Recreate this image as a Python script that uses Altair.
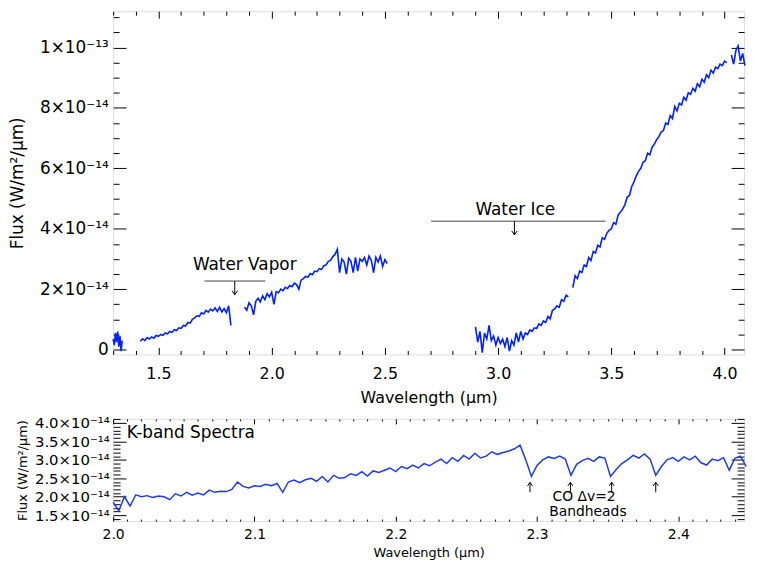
import altair as alt
import pandas as pd

FONT = "DejaVu Sans"

# ---------------- Top panel: full spectrum (flux in units of 1e-14 W/m^2/um) -------------
SEGMENTS = [
    # (start wavelength, step, flux values)
    (1.300, 0.005, [0.35, 0.15, 0.55, 0.25, 0.60, 0.10, 0.45, -0.05, 0.30]),
    (1.420, 0.010, [0.28, 0.36, 0.30, 0.40, 0.35, 0.42, 0.38, 0.47, 0.44, 0.50,
                    0.47, 0.55, 0.52, 0.60, 0.57, 0.66, 0.63, 0.72, 0.70, 0.80,
                    0.78, 0.90, 0.88, 1.00, 1.05, 1.12, 1.10, 1.22, 1.18, 1.30,
                    1.24, 1.34, 1.28, 1.38, 1.26, 1.40, 1.25, 1.36, 1.22, 1.45,
                    0.80]),
    (1.880, 0.010, [1.40, 1.30, 1.55, 1.45, 1.15, 1.60, 1.70, 1.58, 1.78, 1.65,
                    1.85, 1.75, 1.90, 1.50, 1.92, 1.88, 2.00, 1.95, 2.06, 2.02,
                    2.12, 2.08, 2.20, 2.15, 2.00, 2.30, 2.35, 2.42, 2.40, 2.52,
                    2.48, 2.60, 2.58, 2.68, 2.65, 2.78, 2.80, 2.92, 2.95, 3.08,
                    3.15, 3.32, 2.55, 3.00, 2.90, 2.50, 3.02, 2.92, 2.55, 3.05,
                    2.60, 3.00, 2.92, 3.05, 2.80, 3.10, 2.95, 2.55, 3.05, 2.90,
                    3.10, 2.75, 2.98, 2.85]),
    (2.900, 0.010, [0.75, 0.25, 0.60, -0.10, 0.55, 0.35, 0.80, 0.30, 0.45, 0.15,
                    0.40, 0.20, 0.35, 0.10, 0.40, -0.05, 0.30, 0.15, 0.55, 0.25,
                    0.60, 0.35, 0.55, 0.50, 0.65, 0.60, 0.72, 0.70, 0.85, 0.80,
                    0.95, 0.90, 1.10, 1.02, 1.30, 1.35, 1.45, 1.40, 1.65, 1.60,
                    1.80, 1.75]),
    (3.330, 0.010, [2.05, 2.45, 2.35, 2.60, 2.55, 2.80, 2.75, 3.05, 2.95, 3.25,
                    3.20, 3.45, 3.40, 3.70, 3.65, 3.85, 3.95, 4.00, 4.20, 4.15,
                    4.45, 4.55, 4.65, 4.80, 5.05, 5.10, 5.40, 5.55, 5.75, 5.90,
                    6.00, 6.20, 6.25, 6.50, 6.45, 6.70, 6.80, 6.95, 7.05, 7.20,
                    7.25, 7.50, 7.45, 7.75, 7.65, 8.05, 7.90, 8.15, 8.10, 8.35,
                    8.25, 8.50, 8.45, 8.65, 8.55, 8.80, 8.70, 8.95, 8.85, 9.10,
                    9.00, 9.25, 9.15, 9.35, 9.30, 9.45, 9.40, 9.55, 9.50]),
    (4.030, 0.010, [9.75, 9.45, 9.90, 10.05, 9.55, 9.80, 9.40]),
]

TOP_X_DOMAIN = [1.3, 4.086]
TOP_Y_DOMAIN = [-0.16, 11.2]
TOP_X_TICKS = [1.3, 1.4, 1.5, 1.6, 1.7, 1.8, 1.9, 2.0, 2.1, 2.2, 2.3, 2.4, 2.5, 2.6,
               2.7, 2.8, 2.9, 3.0, 3.1, 3.2, 3.3, 3.4, 3.5, 3.6, 3.7, 3.8, 3.9, 4.0]
TOP_Y_TICKS = [0, 0.5, 1, 1.5, 2, 2.5, 3, 3.5, 4, 4.5, 5, 5.5, 6, 6.5, 7, 7.5, 8,
               8.5, 9, 9.5, 10, 10.5, 11]

# annotations (top)
ANN_LABELS = ["Water Vapor", "Water Ice"]
ANN_TEXT_X = [1.881, 3.076]
ANN_TEXT_Y = [2.79, 4.61]
ANN_LINE_X1 = [1.703, 2.704]
ANN_LINE_X2 = [1.972, 3.475]
ANN_LINE_Y = [2.27, 4.25]
ANN_ARROW_X = [1.837, 3.072]
ANN_ARROW_TIP = [1.82, 3.80]

# ---------------- Bottom panel: K-band spectrum ---------------------------------------
K_START, K_STEP = 2.000, 0.004
K_FLUX = [1.85, 1.62, 2.00, 1.75, 2.05, 2.00, 2.03, 1.98, 2.02, 2.00,
          1.92, 2.08, 2.02, 2.12, 2.04, 2.10, 2.05, 2.18, 2.12, 2.15,
          2.14, 2.20, 2.40, 2.28, 2.24, 2.30, 2.28, 2.34, 2.30, 2.36,
          2.12, 2.40, 2.45, 2.38, 2.46, 2.50, 2.42, 2.55, 2.40, 2.58,
          2.50, 2.52, 2.62, 2.58, 2.68, 2.56, 2.70, 2.66, 2.72, 2.78,
          2.68, 2.82, 2.76, 2.86, 2.78, 2.90, 2.84, 2.94, 3.02, 2.90,
          3.06, 2.96, 3.12, 3.02, 3.18, 3.05, 3.10, 3.22, 3.15, 3.20,
          3.24, 3.30, 3.40, 3.00, 2.55, 2.85, 3.00, 3.08, 3.04, 3.10,
          3.02, 2.58, 2.88, 2.98, 3.04, 2.96, 3.08, 3.05, 2.55, 2.74,
          2.90, 3.00, 3.12, 3.05, 3.16, 3.02, 2.58, 2.82, 3.00, 3.06,
          2.96, 3.08, 3.00, 3.10, 2.92, 2.86, 3.02, 2.98, 3.06, 2.72,
          3.04, 3.10, 2.82]

BOT_X_DOMAIN = [2.0, 2.4465]
BOT_Y_DOMAIN = [1.34, 4.11]
BOT_X_TICKS = [2.00, 2.01, 2.02, 2.03, 2.04, 2.05, 2.06, 2.07, 2.08, 2.09,
               2.10, 2.11, 2.12, 2.13, 2.14, 2.15, 2.16, 2.17, 2.18, 2.19,
               2.20, 2.21, 2.22, 2.23, 2.24, 2.25, 2.26, 2.27, 2.28, 2.29,
               2.30, 2.31, 2.32, 2.33, 2.34, 2.35, 2.36, 2.37, 2.38, 2.39,
               2.40, 2.41, 2.42, 2.43, 2.44]
BOT_Y_TICKS = [1.4, 1.5, 1.6, 1.7, 1.8, 1.9, 2.0, 2.1, 2.2, 2.3, 2.4, 2.5, 2.6, 2.7,
               2.8, 2.9, 3.0, 3.1, 3.2, 3.3, 3.4, 3.5, 3.6, 3.7, 3.8, 3.9, 4.0, 4.1]

CO_ARROW_X = [2.295, 2.3236, 2.3528, 2.384]
CO_ARROW_BASE = [2.12, 2.12, 2.12, 2.12]
CO_ARROW_TIP = [2.39, 2.39, 2.39, 2.39]
PANEL_LABEL = ["K-band Spectra"]
PANEL_LABEL_X = [2.0097]
PANEL_LABEL_Y = [3.73]
CO_TEXT = ["CO Δv=2", "Bandheads"]
CO_TEXT_X = [2.3333, 2.336]
CO_TEXT_Y = [2.0, 1.58]

# ---------------- data frames ----------------
rows = []
for si, (start, step, vals) in enumerate(SEGMENTS):
    for i, v in enumerate(vals):
        rows.append({"wl": round(start + i * step, 4), "flux": v, "seg": si})
top_df = pd.DataFrame(rows)

k_df = pd.DataFrame({"wl": [round(K_START + i * K_STEP, 4) for i in range(len(K_FLUX))],
                     "flux": K_FLUX})

ann_text_df = pd.DataFrame({"wl": ANN_TEXT_X, "flux": ANN_TEXT_Y, "label": ANN_LABELS})
ann_line_df = pd.DataFrame({"wl": ANN_LINE_X1, "wl2": ANN_LINE_X2, "flux": ANN_LINE_Y})
ann_arrow_df = pd.DataFrame({"wl": ANN_ARROW_X, "flux": ANN_LINE_Y, "flux2": ANN_ARROW_TIP})
ann_head_df = pd.DataFrame({"wl": ANN_ARROW_X, "flux": ANN_ARROW_TIP})

co_arrow_df = pd.DataFrame({"wl": CO_ARROW_X, "flux": CO_ARROW_BASE, "flux2": CO_ARROW_TIP})
co_head_df = pd.DataFrame({"wl": CO_ARROW_X, "flux": CO_ARROW_TIP})
panel_df = pd.DataFrame({"wl": PANEL_LABEL_X, "flux": PANEL_LABEL_Y, "label": PANEL_LABEL})
co_text_df = pd.DataFrame({"wl": CO_TEXT_X, "flux": CO_TEXT_Y, "label": CO_TEXT})


def tick_axis(orient, values, test, major, minor, label_expr=None, label_size=16,
              label_pad=0, title=None, title_size=16, title_x=None, title_y=None):
    kw = dict(orient=orient, values=values,
              tickSize={"condition": {"test": test, "value": -major}, "value": -minor},
              tickWidth=1, tickColor="#000", grid=False, domain=False,
              labelOverlap=False, labelFlush=False, minExtent=0)
    if label_expr:
        kw.update(labelExpr=label_expr,
                  labelFontSize={"condition": {"test": test, "value": label_size}, "value": 0},
                  labelPadding=label_pad, labelFont=FONT, labelColor="#000")
    else:
        kw.update(labels=False, maxExtent=0)
    if title:
        kw.update(title=title, titleFontSize=title_size, titleFont=FONT, titleColor="#000",
                  titleFontWeight="normal", titleBaseline="middle")
        if title_x is not None:
            kw.update(titleX=title_x)
        if title_y is not None:
            kw.update(titleY=title_y)
    else:
        kw.update(title=None)
    return alt.Axis(**kw)


TOP_W, TOP_H = 636, 346
BOT_W, BOT_H = 636, 103

tx = alt.Scale(domain=TOP_X_DOMAIN, nice=False, zero=False)
ty = alt.Scale(domain=TOP_Y_DOMAIN, nice=False, zero=False)

x_major_top = "abs(datum.value*2 - round(datum.value*2)) < 1e-6"
y_major_top = "abs(datum.value/2 - round(datum.value/2)) < 1e-6"

top_line = alt.Chart(top_df).mark_line(color="#0020ff", strokeWidth=1.6).encode(
    x=alt.X("wl:Q", scale=tx, axis=tick_axis(
        "bottom", TOP_X_TICKS, x_major_top, 7, 4,
        label_expr=f"({x_major_top}) ? format(datum.value, '.1f') : ''",
        label_size=16, label_pad=18, title="Wavelength (μm)", title_size=16, title_y=43)),
    y=alt.Y("flux:Q", scale=ty, axis=tick_axis(
        "left", TOP_Y_TICKS, y_major_top, 13, 6,
        label_expr=("datum.value == 0 ? '0' : (datum.value == 10 ? '1×10⁻¹³' : "
                    f"(({y_major_top}) ? format(datum.value, 'd') + '×10⁻¹⁴' : ''))"),
        label_size=17, label_pad=18, title="Flux (W/m²/μm)", title_size=17, title_x=-96.5)),
    detail="seg:N",
)

top_mirror = alt.Chart(top_df).mark_line(strokeOpacity=0).encode(
    x=alt.X("wl:Q", scale=tx, axis=tick_axis("top", TOP_X_TICKS, x_major_top, 7, 4)),
    y=alt.Y("flux:Q", scale=ty, axis=tick_axis("right", TOP_Y_TICKS, y_major_top, 13, 6)),
    detail="seg:N",
)

ann_text = alt.Chart(ann_text_df).mark_text(font=FONT, fontSize=17, color="#000",
                                            baseline="middle").encode(
    x=alt.X("wl:Q", scale=tx, axis=None), y=alt.Y("flux:Q", scale=ty, axis=None),
    text="label:N")
ann_line = alt.Chart(ann_line_df).mark_rule(color="#444", strokeWidth=1).encode(
    x=alt.X("wl:Q", scale=tx, axis=None), x2="wl2:Q", y=alt.Y("flux:Q", scale=ty, axis=None))
ann_arrow = alt.Chart(ann_arrow_df).mark_rule(color="#000", strokeWidth=1).encode(
    x=alt.X("wl:Q", scale=tx, axis=None), y=alt.Y("flux:Q", scale=ty, axis=None), y2="flux2:Q")
ann_head = alt.Chart(ann_head_df).mark_point(
    shape="M-0.7,-1L0,0L0.7,-1", size=60, filled=False, color="#000", strokeWidth=1,
    opacity=1).encode(
    x=alt.X("wl:Q", scale=tx, axis=None), y=alt.Y("flux:Q", scale=ty, axis=None))

top = alt.layer(top_line, top_mirror, ann_line, ann_arrow, ann_head, ann_text).resolve_axis(
    x="independent", y="independent").properties(width=TOP_W, height=TOP_H)

# ---------------- bottom panel ----------------
bx = alt.Scale(domain=BOT_X_DOMAIN, nice=False, zero=False)
by = alt.Scale(domain=BOT_Y_DOMAIN, nice=False, zero=False)
x_major_bot = "abs(datum.value*10 - round(datum.value*10)) < 1e-6"
y_major_bot = "abs(datum.value*2 - round(datum.value*2)) < 1e-6"

k_line = alt.Chart(k_df).mark_line(color="#1e3ce0", strokeWidth=1.5).encode(
    x=alt.X("wl:Q", scale=bx, axis=tick_axis(
        "bottom", BOT_X_TICKS, x_major_bot, 5, 2,
        label_expr=f"({x_major_bot}) ? format(datum.value, '.1f') : ''",
        label_size=14, label_pad=12, title="Wavelength (μm)", title_size=13, title_y=32)),
    y=alt.Y("flux:Q", scale=by, axis=tick_axis(
        "left", BOT_Y_TICKS, y_major_bot, 13, 7,
        label_expr=f"({y_major_bot}) ? format(datum.value, '.1f') + '×10⁻¹⁴' : ''",
        label_size=15, label_pad=17, title="Flux (W/m²/μm)", title_size=13, title_x=-91)),
)
k_mirror = alt.Chart(k_df).mark_line(strokeOpacity=0).encode(
    x=alt.X("wl:Q", scale=bx, axis=tick_axis("top", BOT_X_TICKS, x_major_bot, 5, 2)),
    y=alt.Y("flux:Q", scale=by, axis=tick_axis("right", BOT_Y_TICKS, y_major_bot, 13, 7)),
)
co_arrow = alt.Chart(co_arrow_df).mark_rule(color="#000", strokeWidth=1).encode(
    x=alt.X("wl:Q", scale=bx, axis=None), y=alt.Y("flux:Q", scale=by, axis=None), y2="flux2:Q")
co_head = alt.Chart(co_head_df).mark_point(
    shape="M-0.7,1L0,0L0.7,1", size=50, filled=False, color="#000", strokeWidth=1,
    opacity=1).encode(
    x=alt.X("wl:Q", scale=bx, axis=None), y=alt.Y("flux:Q", scale=by, axis=None))
panel_text = alt.Chart(panel_df).mark_text(font=FONT, fontSize=17, color="#000",
                                           align="left", baseline="middle").encode(
    x=alt.X("wl:Q", scale=bx, axis=None), y=alt.Y("flux:Q", scale=by, axis=None),
    text="label:N")
co_text = alt.Chart(co_text_df).mark_text(font=FONT, fontSize=14, color="#000",
                                          align="center", baseline="middle").encode(
    x=alt.X("wl:Q", scale=bx, axis=None), y=alt.Y("flux:Q", scale=by, axis=None),
    text="label:N")

bottom = alt.layer(k_line, k_mirror, co_arrow, co_head, panel_text, co_text).resolve_axis(
    x="independent", y="independent").properties(width=BOT_W, height=BOT_H)

chart = alt.vconcat(top, bottom, spacing=9).properties(
    padding={"left": 0, "top": 0, "right": 0, "bottom": 0}
).configure_view(stroke="#000", strokeWidth=1).configure(background="white")

chart.save("out.html", embed_options={"renderer": "svg", "actions": False})
